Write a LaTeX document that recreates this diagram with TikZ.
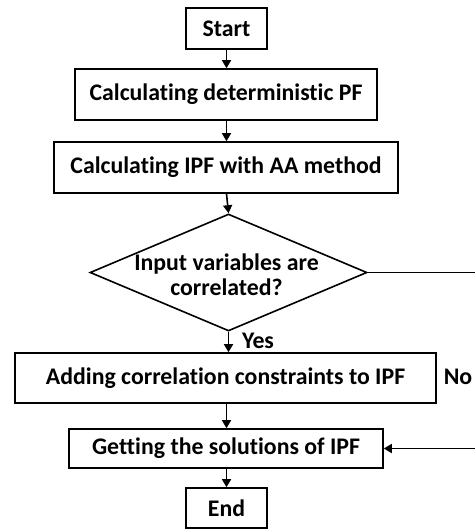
\documentclass[tikz,border=0pt]{standalone}
\usepackage{fontspec}
\setmainfont{Carlito}[RawFeature=-liga]
\usetikzlibrary{arrows.meta,shapes.geometric,calc}

\tikzset{
	stepbox/.style={draw=black,line width=1.6pt,rectangle,inner sep=0pt,font=\fontsize{23.8}{25}\selectfont\bfseries},
	askbox/.style={draw=black,line width=1.6pt,diamond,inner sep=0pt,minimum width=277pt,minimum height=117pt},
	flow/.style={black,line width=1.6pt,-{Triangle[length=8pt,width=9pt]}},
	note/.style={inner sep=0pt,font=\fontsize{23.8}{25}\selectfont\bfseries}
}

\begin{document}
\begin{tikzpicture}[x=1pt,y=-1pt]
		\useasboundingbox (0,0) rectangle (474,529);
		\node [stepbox,minimum width=81pt,minimum height=41pt] (start) at (226.5,28.5) {Start};
		\node [stepbox,minimum width=302pt,minimum height=51pt] (detpf) at (226,94.5) {Calculating deterministic PF};
		\node [stepbox,minimum width=344pt,minimum height=51pt] (aaipf) at (226,167.5) {Calculating IPF with AA method};
		\node [askbox] (corr) at (228.5,272.5) {};
		\node [note,align=center] (corrtxt) at (226.5,275) {Input variables are\\[0pt]correlated?};
		\node [stepbox,minimum width=421pt,minimum height=50pt] (addcc) at (225.5,378) {Adding correlation constraints to IPF};
		\node [stepbox,minimum width=314pt,minimum height=39pt] (solve) at (226,448.5) {Getting the solutions of IPF};
		\node [stepbox,minimum width=81pt,minimum height=40pt] (end) at (226.5,508) {End};
		\node [note] (yes) at (258,341) {Yes};
		\node [note] (no) at (458,377) {No};
		\coordinate (noturn) at (482,272.5);
%		\coordinate (noturn) at (470,272.5);
		\draw [flow] (start) -- (start|-detpf.north);
		\draw [flow] (start|-detpf.south) -- (start|-aaipf.north);
		\draw [flow] (start|-aaipf.south) -- (corr.north);
		\draw [flow] (corr.south) -- (corr.south|-addcc.north);
		\draw [flow] (start|-addcc.south) -- (start|-solve.north);
		\draw [flow] (start|-solve.south) -- (end);
		\draw [flow] (corr.east) -- (noturn) |- (solve.east);
\end{tikzpicture}
\end{document}
